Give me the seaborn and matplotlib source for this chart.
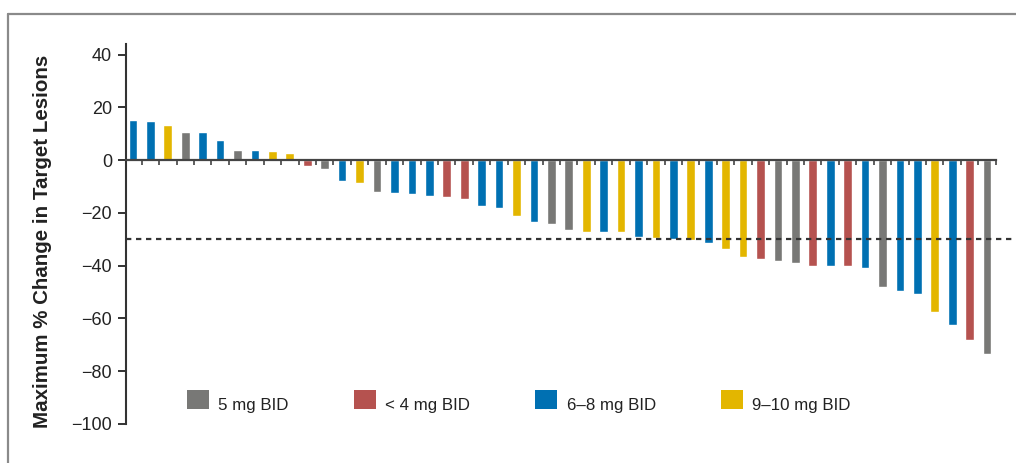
import numpy as np
import pandas as pd
import matplotlib
matplotlib.use("Agg")
import matplotlib.pyplot as plt
from matplotlib.lines import Line2D
from matplotlib.patches import Patch
from matplotlib.transforms import ScaledTranslation
import seaborn as sns

# Best change in target lesions per patient, sorted (waterfall)
values = [15.3, 14.9, 13.4, 10.8, 10.8, 7.8, 3.8, 3.8, 3.3, 2.8,
          -2.2, -3.5, -7.8, -8.8, -12.0, -12.4, -12.9, -13.5, -14.0, -14.7,
          -17.5, -18.2, -21.1, -23.5, -24.1, -26.5, -27.1, -27.1, -27.1, -29.2,
          -29.6, -30.0, -30.3, -31.5, -33.6, -36.6, -37.6, -38.1, -39.1, -40.0,
          -40.0, -40.0, -40.9, -48.0, -49.6, -50.6, -57.7, -62.5, -68.3, -73.5]
dose_codes = list("BBYGBBGBYY" "RGBYGBBBRR" "BBYBGGYBYB" "YBYBYYRGGR" "BRBGBBYBRG")

dose_names = {"G": "5 mg BID", "R": "< 4 mg BID", "B": "6–8 mg BID", "Y": "9–10 mg BID"}
legend_order = ["G", "R", "B", "Y"]
dose_colors = {"5 mg BID": "#787876", "< 4 mg BID": "#b5524f",
               "6–8 mg BID": "#0070b2", "9–10 mg BID": "#e3b600"}

y_ticks = [-100, -80, -60, -40, -20, 0, 20, 40]
threshold = -30
y_label = "Maximum % Change in Target Lesions"

df = pd.DataFrame({
    "patient": [str(i + 1) for i in range(len(values))],
    "change": values,
    "dose": [dose_names[c] for c in dose_codes],
})

sns.set_theme(style="white")
plt.rcParams["font.family"] = ["Liberation Sans", "DejaVu Sans"]

W, H = 1016, 463
fig = plt.figure(figsize=(W / 100, H / 100), dpi=100)
ax = fig.add_axes([126 / W, 1 - 424 / H, (1012 - 126) / W, (424 - 44) / H])

sns.barplot(data=df, x="patient", y="change", hue="dose", order=df["patient"],
            palette=dose_colors, dodge=False, width=0.5, saturation=1,
            legend=False, ax=ax, zorder=2)

n = len(values)
ax.set_xlim(-0.4, n + 0.43)
ax.set_ylim(-100, 44)

# threshold line for partial response
ax.axhline(threshold, color="#333333", lw=1.6, ls=(0, (2.4, 2.1)), zorder=3)

# axes styling
for side in ["top", "right"]:
    ax.spines[side].set_visible(False)
ax.spines["left"].set_color("#333333")
ax.spines["left"].set_linewidth(1.5)
ax.spines["left"].set_bounds(-100, 44)
ax.spines["bottom"].set_position(("data", 0))
ax.spines["bottom"].set_color("#444444")
ax.spines["bottom"].set_linewidth(1.6)
ax.spines["bottom"].set_bounds(-0.4, n - 0.5)
ax.spines["bottom"].set_zorder(4)

ax.set_yticks(y_ticks)
ax.set_yticklabels([f"{t}".replace("-", "\u2212") for t in y_ticks])
ax.tick_params(axis="y", direction="out", length=6, width=1.4, color="#333333",
               labelsize=13, labelcolor="#222222", pad=4, left=True)
ax.set_xticks(np.arange(0.5, n, 1.0))
ax.set_xticklabels([""] * n)
ax.tick_params(axis="x", direction="out", length=3.5, width=1.1, color="#333333",
               bottom=True)
ax.set_xlabel("")
ax.set_ylabel("")
ax.grid(False)

fig.text(43 / W, 1 - 241.5 / H, y_label, rotation=90, ha="center", va="center",
         fontsize=14.8, fontweight="bold", color="#222222")

handles = [Patch(facecolor=dose_colors[dose_names[c]], edgecolor="none",
                 label=dose_names[c]) for c in legend_order]
leg = ax.legend(handles=handles, ncol=4, loc="center left",
                bbox_to_anchor=(187 / W, 1 - 399.5 / H), bbox_transform=fig.transFigure,
                frameon=False, fontsize=12.2, handlelength=1.3, handleheight=1.35,
                handletextpad=0.55, columnspacing=3.85, borderpad=0, borderaxespad=0)
# labels sit a little lower than the swatches
shift = ScaledTranslation(0, -5 / 100, fig.dpi_scale_trans)
for t in leg.get_texts():
    t.set_color("#222222")
    t.set_transform(t.get_transform() + shift)

# surrounding panel frame (top and left edges)
frame_kw = dict(color="#8a8a8a", lw=1.6, transform=fig.transFigure)
fig.add_artist(Line2D([8 / W, 1.0], [1 - 14 / H, 1 - 14 / H], **frame_kw))
fig.add_artist(Line2D([8 / W, 8 / W], [1 - 14 / H, 0.0], **frame_kw))

fig.savefig("out.png", dpi=100)
